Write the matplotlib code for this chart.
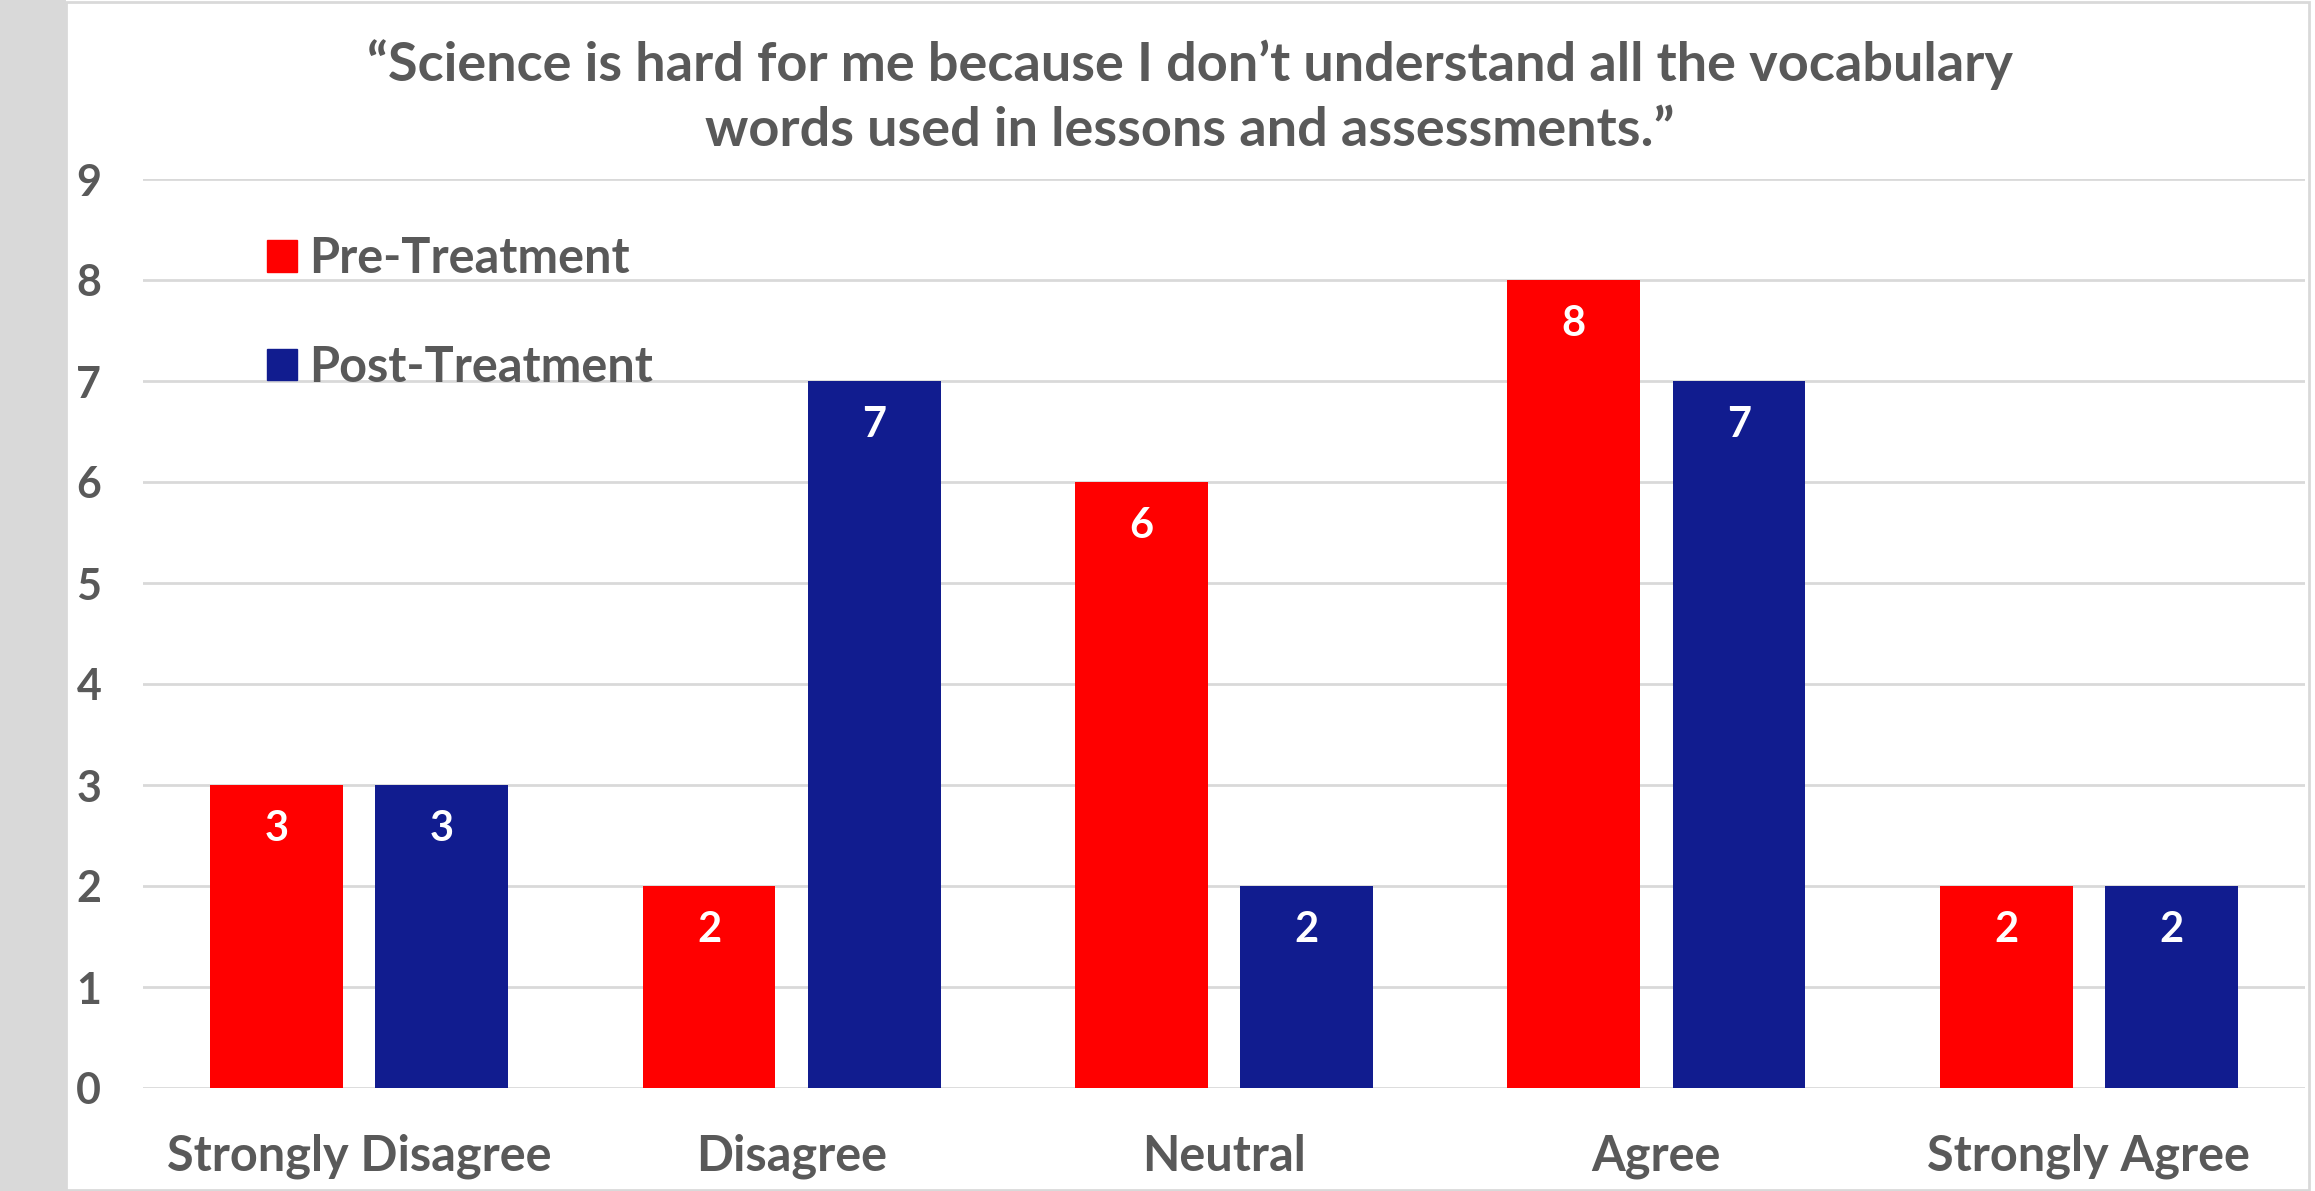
import matplotlib.pyplot as plt
from matplotlib.patches import Rectangle, Patch
import numpy as np

categories = ["Strongly Disagree", "Disagree", "Neutral", "Agree", "Strongly Agree"]
pre_treatment = [3, 2, 6, 8, 2]
post_treatment = [3, 7, 2, 7, 2]
series_names = ["Pre-Treatment", "Post-Treatment"]
title = ("\u201cScience is hard for me because I don\u2019t understand all the vocabulary\n"
         "words used in lessons and assessments.\u201d")

RED = "#FF0000"
BLUE = "#111C8F"
TXT = "#595959"
GRID = "#D9D9D9"

plt.rcParams['font.family'] = ['Lato', 'DejaVu Sans']
plt.rcParams['font.weight'] = 'bold'

fig = plt.figure(figsize=(23.15, 11.91), dpi=100)
fig.patch.set_facecolor("white")

# gray strip on the left and thin frame around the chart
fig.patches.append(Rectangle((0, 0), 66 / 2315, 1, transform=fig.transFigure,
                             facecolor=GRID, edgecolor="none", zorder=0))
fig.patches.append(Rectangle((66 / 2315, 0.001), (2309 - 66) / 2315, 0.997,
                             transform=fig.transFigure, facecolor="none",
                             edgecolor=GRID, linewidth=2, zorder=1))

ax = fig.add_axes([143 / 2315, 103 / 1191, (2305 - 143) / 2315, (1088 - 179) / 1191])

x = np.arange(len(categories))
w = 0.307
off = w / 2 + 0.0375
b1 = ax.bar(x - off, pre_treatment, w, color=RED, label=series_names[0], zorder=3)
b2 = ax.bar(x + off, post_treatment, w, color=BLUE, label=series_names[1], zorder=3)

for bars in (b1, b2):
    for r in bars:
        ax.annotate(f"{int(r.get_height())}", (r.get_x() + r.get_width() / 2, r.get_height()),
                    xytext=(0, -31.5), textcoords="offset points", ha="center", va="center",
                    color="white", fontsize=30, fontweight="bold", zorder=4)

ax.set_xlim(-0.5, len(categories) - 0.5)
ax.set_ylim(0, 9)
ax.set_yticks(range(10))
ax.yaxis.grid(True, color=GRID, linewidth=2, zorder=0)
ax.set_axisbelow(True)
for s in ax.spines.values():
    s.set_visible(False)
ax.set_xticks(x)
ax.set_xticklabels(categories)
ax.tick_params(axis="y", length=0, pad=30, labelsize=31, labelcolor=TXT)
ax.tick_params(axis="x", length=0, pad=33, labelsize=35, labelcolor=TXT)

fig.text(1190 / 2315, 1 - 97 / 1191, title, ha="center", va="center", fontsize=39,
         fontweight="bold", color=TXT, linespacing=1.4)

handles = [Patch(color=RED), Patch(color=BLUE)]
leg = fig.legend(handles, series_names, loc="upper left",
                 bbox_to_anchor=(243 / 2315, 1 - 212 / 1191), frameon=False,
                 fontsize=35, labelcolor=TXT, handlelength=0.62, handleheight=0.62,
                 handletextpad=0.25, labelspacing=1.3, borderpad=0)

plt.savefig("out.png", dpi=100)
